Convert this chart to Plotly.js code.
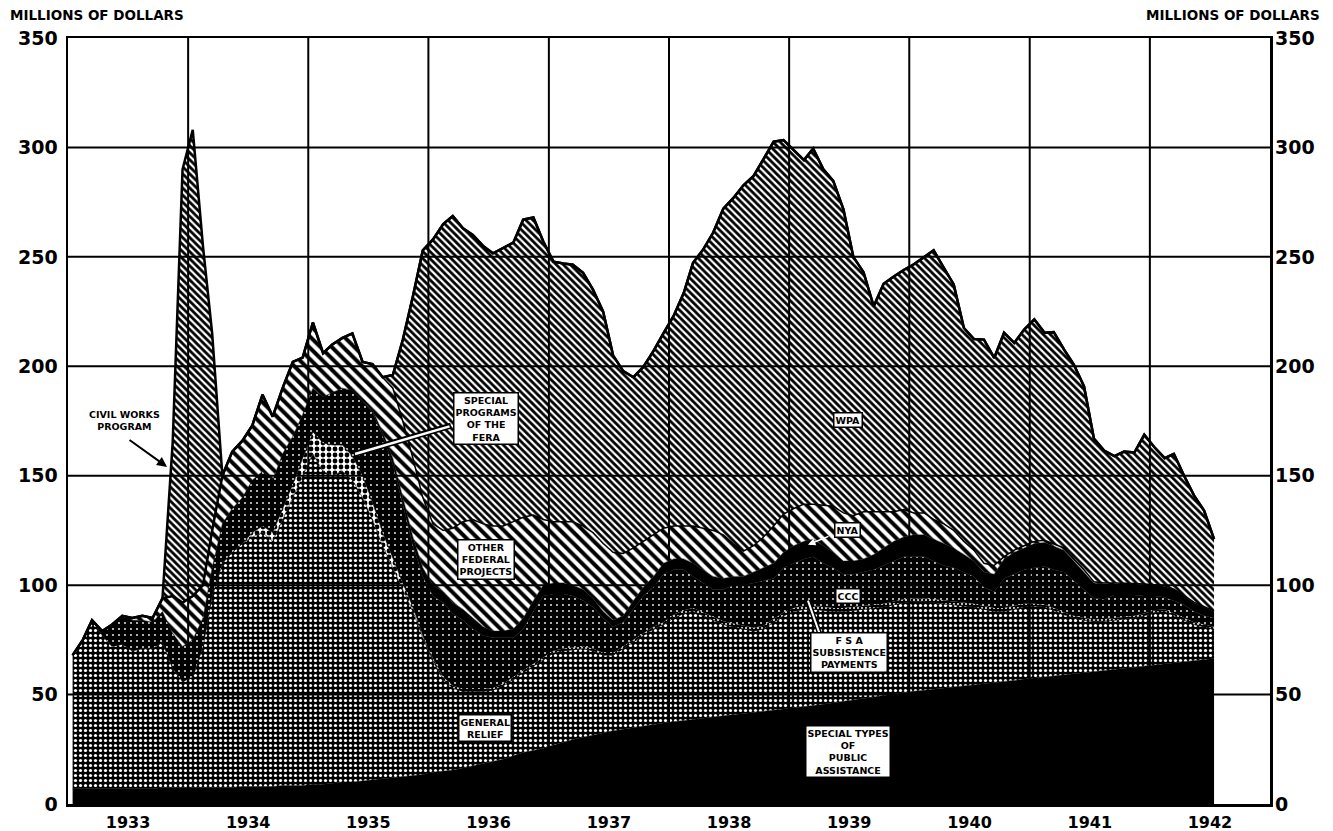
<!DOCTYPE html>
<html>
<head>
<meta charset="utf-8">
<script src="https://cdn.plot.ly/plotly-3.0.1.min.js"></script>
<style>html,body{margin:0;padding:0;background:#fff;}#chart{width:1333px;height:831px;}</style>
</head>
<body>
<div id="chart"></div>
<script>
// Monthly, January 1933 - July 1942 (millions of dollars)
const firstYear = 1933, lastYear = 1942, lastMonth = 7;
const months = [];
for (let y = firstYear; y <= lastYear; y++) {
  for (let m = 1; m <= 12; m++) {
    if (y === lastYear && m > lastMonth) break;
    months.push(y + '-' + String(m).padStart(2, '0') + '-15');
  }
}

const specialTypes = [
  7,7,7,7,7,7,7,7,7,7.5,7.5,7.5,
  7.5,7.5,7.5,7.5,7.5,8,8,8,8,8.5,8.5,8.5,
  9,9,9.5,10,10,10.5,11,11.5,12,12.5,13,13.5,
  14.5,15,15.5,16.5,17.5,18.5,19.5,20.5,22,23.5,24.5,25.5,
  27,28.5,29.5,30.5,31.5,32.5,33.5,34.2,35,35.7,36.4,37,
  37.6,38.2,38.8,39.3,39.8,40.3,40.8,41.3,41.8,42.3,42.8,43.3,
  43.8,44.4,45,45.6,46.2,46.8,47.5,48.2,48.9,49.6,50.3,51,
  51.5,52,52.5,53,53.5,54,54.5,55,55.5,56,56.5,57,
  57.5,58,58.5,59,59.5,60,60.5,61,61.5,62,62.5,63,
  63.5,64,64.5,65,65.5,66,66.5];

const generalRelief = [
  61,68,77,70,65,66,63,64,64,66.5,54.5,48.5,
  50.5,64.5,87.5,102.5,107.5,111,114,116,112,121.5,131.5,141.5,
  151,143,140.5,142,138,129.5,119,106.5,96,85.5,75,62.5,
  50.5,42,37.5,35,34,33,32.5,33.5,35,36.5,38.5,40.5,
  42,41.5,41,40.5,38.5,35.5,34.5,36.8,39,41.3,43.6,45,
  47.4,48.8,49.2,46.7,44.2,41.7,40.2,38.7,37.2,37.7,40.2,42.7,
  44.2,44.6,44,42.9,41.8,41.2,41,40.8,40.6,40.4,40.7,41,
  41,40.5,39.5,38.5,37.5,36.5,35.5,34,32.5,32,32.5,33,
  33,32,30,27.5,25.5,24,22.9,22.5,22.5,22.5,22.5,23,
  24,24,21.5,19,16.5,15,13.5];

const feraSpecial = [
  0,0,0,0,0,0,0,0,0,0,0,0,
  0,0,0,0,0,0,2,3,4,5,6,8,
  10,13,14,12,11,10,8,6,4,3,2,1,
  0.5,0,0,0,0,0,0,0,0,0,0,0,
  0,0,0,0,0,0,0,0,0,0,0,0,
  0,0,0,0,0,0,0,0,0,0,0,0,
  0,0,0,0,0,0,0,0,0,0,0,0,
  0,0,0,0,0,0,0,0,0,0,0,0,
  0,0,0,0,0,0,0,0,0,0,0,0,
  0,0,0,0,0,0,0];

const fsaSubsistence = [
  0,0,0,0,0,0,0,0,0,0,0,0,
  0,0,0,0,0,0,0,0,0,0,0,0,
  0,0,0,0,0,0,0,0,0,0,0,0,
  1,1,1,1,1,1,1,1,1,1,1,1,
  1,1,1,1,1,1,1,1,1,1,1,1,
  1.5,1.5,1.5,1.5,1.5,1.5,1.5,1.5,1.5,1.5,1.5,1.5,
  1.5,1.5,1.5,1.5,1.5,1.5,1.5,1.5,1.5,1.5,1.5,1.5,
  1.5,1.5,1.5,1.5,1.5,1.5,1.5,1.5,1.5,1.5,1.5,1.5,
  1,1,1,1,1,1,1,1,1,1,1,1,
  1,1,1,1,1,1,1];

const ccc = [
  0,0,0,2,10,13,14,13,12,14,16,16,
  17,13,13,18,20,21,24,25,24,25,22,20,
  20,21,24,26,30,34,41,44,43,36,28,27,
  28.5,34,33,31.5,27.5,24.5,23,21,18,19,24,28,
  26,25,23.5,21,19,16,12,11,14,17,18,22,
  20.5,18.5,14.5,13.5,12.5,14.5,17.5,18.5,20.5,20.5,18.5,20.5,
  20.5,21.5,22.5,20,18.5,15.5,15,15.5,16,17.5,18.5,19.5,
  19,19,17.5,16,15.5,14,12.5,8.5,7.5,13.5,14.5,15.5,
  16.5,17.5,17.5,18.5,16,13,9.6,9,10.5,10,9.5,8,
  6.5,5.5,6,6,5,4,4];

const nya = [
  0,0,0,0,0,0,0,0,0,0,0,0,
  0,0,0,0,0,0,0,0,0,0,0,0,
  0,0,0,0,0,0,1,2,3,3,4,4,
  5,5,5,5,5,4,3,3,4,5,5,5,
  5,5,5,5,4,3,3,3,4,4,5,5,
  5,5,6,6,6,5,4,4,5,6,7,7,
  8,8,8,8,7,6,6,6,7,8,9,9,
  10,10,10,10,9,8,7,7,8,9,10,10,
  11,11,11,10,9,8,7,7,5,5,5,5,
  5,5,5,4,4,4,3];

const otherFederal = [
  0,0,0,0,0,0,1,2,2,6,17,20,
  20,15,17,22,26,26,25,35,29,30,34,26,
  30,20,22,23,26,18,21,25,32,35,36,32,
  28,28,34,40,45,47,48,48,49,46,39,30,
  28,28,29,29,30,31,31,28.5,24,21,19,16,
  15,15,17,19,21,20,15,11.5,12,14,17,17.5,
  17,17,16,18.5,21,22,20.7,21.5,19.5,16.5,13.5,12.5,
  10,10,9,9,8,6,5,4,4,1,1,1,
  1,1,1,1,1,1,0.5,0.5,0.5,0.5,0.2,0.5,
  0,0.3,0.2,0.2,0.2,0.2,0.2];

const wpa = [
  0,0,0,0,0,0,0,0,0,0,0,0,
  0,0,0,0,0,0,0,0,0,0,0,0,
  0,0,0,0,0,0,0,0,6,37,74,113,
  130,140,142.7,134,130,127,124.6,127,127.5,136,136,127,
  118.8,118,117.4,115.7,111,106,90,83.3,78,79.7,84,89,
  96,106.6,120.3,127.4,136,149,157.8,167.2,169,172.6,175.6,170.9,
  163.8,157.2,162.5,153.5,148.7,138.7,118.3,109.5,93.9,104.2,107.5,109.5,
  113.6,117,123,117,112.4,97.5,96.5,102.2,94.8,102.3,94.7,98.8,
  101.4,94.8,96.6,90.7,88.8,83.8,65.5,60.5,58,60,59.9,68.2,
  63,58.2,61.8,54.8,48.8,43.8,32.8];

const civilWorks = [
  0,0,0,0,0,0,0,0,0,0,70,198,
  213,155,90,0,0,0,0,0,0,0,0,0,
  0,0,0,0,0,0,0,0,0,0,0,0,
  0,0,0,0,0,0,0,0,0,0,0,0,
  0,0,0,0,0,0,0,0,0,0,0,0,
  0,0,0,0,0,0,0,0,0,0,0,0,
  0,0,0,0,0,0,0,0,0,0,0,0,
  0,0,0,0,0,0,0,0,0,0,0,0,
  0,0,0,0,0,0,0,0,0,0,0,0,
  0,0,0,0,0,0,0];

const yTicks = [0, 50, 100, 150, 200, 250, 300, 350];
const yearTicks = ['1934','1935','1936','1937','1938','1939','1940','1941','1942'];

function layer(name, y, fill, pattern, lineW, lineC) {
  const t = {
    type: 'scatter', mode: 'lines', name: name, x: months, y: y,
    stackgroup: 'relief', line: {color: lineC || 'black', width: lineW, shape: 'linear'},
    fillcolor: fill, hoverinfo: 'skip', showlegend: false
  };
  if (pattern) t.fillpattern = pattern;
  return t;
}

const traces = [
  layer('Special types of public assistance', specialTypes, 'black', null, 0.5),
  layer('General relief', generalRelief, 'black', {shape: '.', bgcolor: 'black', fgcolor: 'white', size: 5, solidity: 0.32}, 0.5),
  layer('Special programs of the FERA', feraSpecial, 'white', {shape: '.', bgcolor: 'white', fgcolor: 'black', size: 6, solidity: 0.5}, 0.5),
  layer('FSA subsistence payments', fsaSubsistence, 'black', {shape: '.', bgcolor: 'black', fgcolor: 'white', size: 4, solidity: 0.2}, 0),
  layer('CCC', ccc, 'black', {shape: '.', bgcolor: 'black', fgcolor: 'white', size: 6, solidity: 0.07}, 0.5),
  layer('NYA', nya, 'black', null, 0.5),
  layer('Other Federal projects', otherFederal, 'white', {shape: '\\', bgcolor: 'white', fgcolor: 'black', size: 8, solidity: 0.5}, 1.5),
  layer('WPA', wpa, 'white', {shape: '\\', bgcolor: 'white', fgcolor: 'black', size: 5, solidity: 0.55}, 2.5),
  layer('Civil Works Program', civilWorks, 'white', {shape: '\\', bgcolor: 'white', fgcolor: 'black', size: 5, solidity: 0.55}, 2.5),
  {type: 'scatter', x: [months[0]], y: [null], yaxis: 'y2', mode: 'lines', showlegend: false, hoverinfo: 'skip'}
];

const tickFont = {family: 'DejaVu Sans', size: 19, color: 'black', weight: 700};
const shapes = [];
yearTicks.forEach(y => shapes.push({type: 'line', xref: 'x', yref: 'paper', x0: y + '-01-01', x1: y + '-01-01', y0: 0, y1: 1, layer: 'above', line: {color: 'black', width: 2}}));
yTicks.slice(1, -1).forEach(v => shapes.push({type: 'line', xref: 'paper', yref: 'y', x0: 0, x1: 1, y0: v, y1: v, layer: 'above', line: {color: 'black', width: 2}}));
// leader underlays (double-line pointers)
shapes.push({type: 'line', xref: 'paper', yref: 'paper', x0: 0.2388, y0: 0.457, x1: 0.3186, y1: 0.494, layer: 'above', line: {color: 'black', width: 6}});
shapes.push({type: 'line', xref: 'paper', yref: 'paper', x0: 0.6156, y0: 0.2656, x1: 0.6256, y1: 0.2213, layer: 'above', line: {color: 'black', width: 5}});

const boxFont = {family: 'DejaVu Sans', size: 9.5, color: 'black', weight: 700};
function box(text, x, y) {
  return {xref: 'paper', yref: 'paper', x: x, y: y, xanchor: 'center', yanchor: 'middle', text: text, showarrow: false, font: boxFont,
    bgcolor: 'white', bordercolor: 'black', borderwidth: 1.5, borderpad: 1, align: 'center'};
}
const annotations = [
  {xref: 'paper', yref: 'paper', x: -0.05, y: 1.03, xanchor: 'left', yanchor: 'middle', text: 'MILLIONS OF DOLLARS', showarrow: false, font: {family: 'DejaVu Sans', size: 13.5, color: 'black', weight: 700}},
  {xref: 'paper', yref: 'paper', x: 1.043, y: 1.03, xanchor: 'right', yanchor: 'middle', text: 'MILLIONS OF DOLLARS', showarrow: false, font: {family: 'DejaVu Sans', size: 13.5, color: 'black', weight: 700}},
  {xref: 'paper', yref: 'paper', x: 0.0474, y: 0.5013, xanchor: 'center', yanchor: 'middle', text: 'CIVIL WORKS<br>PROGRAM', showarrow: false, font: boxFont, bgcolor: 'white'},
  {xref: 'paper', yref: 'paper', x: 0.0824, y: 0.4401, ax: -39, ay: -28, text: '', showarrow: true, arrowhead: 2, arrowsize: 1, arrowwidth: 2, arrowcolor: 'black'},
  {xref: 'paper', yref: 'paper', x: 0.2388, y: 0.457, ax: 96, ay: -28, text: '', showarrow: true, arrowhead: 0, arrowwidth: 2.5, arrowcolor: 'white'},
  {xref: 'paper', yref: 'paper', x: 0.6156, y: 0.2656, ax: 12, ay: 34, text: '', showarrow: true, arrowhead: 0, arrowwidth: 2, arrowcolor: 'white'},
  {xref: 'paper', yref: 'paper', x: 0.6156, y: 0.3385, ax: 22, ay: -9, text: '', showarrow: true, arrowhead: 2, arrowsize: 1, arrowwidth: 1.5, arrowcolor: 'white'},
  box('SPECIAL<br>PROGRAMS<br>OF THE<br>FERA', 0.3478, 0.5039),
  box('OTHER<br>FEDERAL<br>PROJECTS', 0.3478, 0.319),
  box('GENERAL<br>RELIEF', 0.3469, 0.099),
  box('WPA', 0.6489, 0.5013),
  box('NYA', 0.6481, 0.3581),
  box('CCC', 0.6489, 0.2721),
  box('F S A<br>SUBSISTENCE<br>PAYMENTS', 0.6498, 0.1979),
  box('SPECIAL TYPES<br>OF<br>PUBLIC<br>ASSISTANCE', 0.6489, 0.069)
];

const layout = {
  width: 1333, height: 831,
  margin: {l: 68, r: 63, t: 38, b: 27},
  paper_bgcolor: 'white', plot_bgcolor: 'white',
  showlegend: false,
  xaxis: {
    type: 'date', range: ['1933-01-01', '1943-01-01'],
    tickmode: 'linear', tick0: '1933-01-01', dtick: 'M12', ticklabelmode: 'period', tickformat: '%Y',
    showgrid: false, zeroline: false, showline: true, mirror: true, linecolor: 'black', linewidth: 2.5,
    ticks: '', tickfont: {family: 'DejaVu Sans', size: 16, color: 'black', weight: 700}, ticklabelstandoff: 2, automargin: false
  },
  yaxis: {
    range: [0, 350], tickmode: 'array', tickvals: yTicks, ticktext: yTicks.map(String),
    showgrid: false, zeroline: false, showline: true, mirror: true, linecolor: 'black', linewidth: 2.5,
    ticks: '', tickfont: tickFont, ticklabelstandoff: 4, automargin: false
  },
  yaxis2: {
    overlaying: 'y', side: 'right', range: [0, 350], tickmode: 'array', tickvals: yTicks, ticktext: yTicks.map(String),
    showgrid: false, zeroline: false, showline: false, ticks: '', tickfont: tickFont, ticklabelstandoff: 4, automargin: false
  },
  shapes: shapes,
  annotations: annotations
};

Plotly.newPlot('chart', traces, layout, {staticPlot: true, displayModeBar: false});
</script>
</body>
</html>
